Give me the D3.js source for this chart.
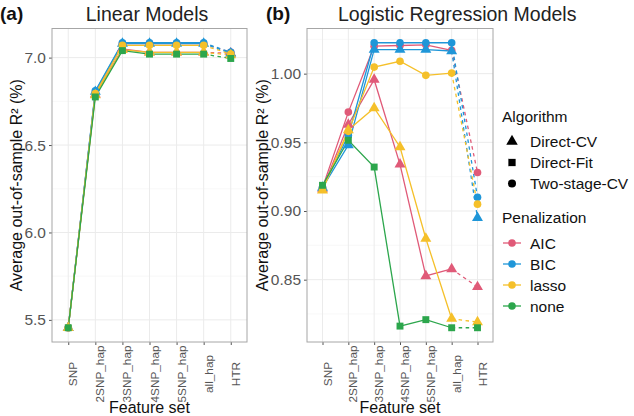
<!DOCTYPE html>
<html>
<head>
<meta charset="utf-8">
<script src="https://cdn.jsdelivr.net/npm/d3@7"></script>
<style>
  body { margin: 0; background: #fff; }
  svg { display: block; font-family: "Liberation Sans", Arial, sans-serif; }
</style>
</head>
<body>
<div id="graphic"></div>
<script>
const features = ['SNP', '2SNP_hap', '3SNP_hap', '4SNP_hap', '5SNP_hap', 'all_hap', 'HTR'];
const algorithms = ['Direct-CV', 'Direct-Fit', 'Two-stage-CV'];
const penalties = ['AIC', 'BIC', 'lasso', 'none'];
const penColors = ['#E05A78', '#1F96D8', '#F5C02A', '#2CA64C'];

// one row per line: [penalization, algorithm]
const seriesKeys = [
  ['AIC', 'Two-stage-CV'],
  ['AIC', 'Direct-CV'],
  ['BIC', 'Two-stage-CV'],
  ['BIC', 'Direct-CV'],
  ['lasso', 'Two-stage-CV'],
  ['lasso', 'Direct-CV'],
  ['none', 'Direct-Fit']
];

const linearValues = [
  [5.455, 6.80, 7.080, 7.080, 7.080, 7.080, 7.030],
  [5.455, 6.79, 7.050, 7.030, 7.030, 7.030, 7.025],
  [5.455, 6.81, 7.085, 7.085, 7.085, 7.085, 7.030],
  [5.455, 6.805, 7.080, 7.080, 7.080, 7.080, 7.025],
  [5.455, 6.795, 7.070, 7.070, 7.070, 7.070, 7.020],
  [5.455, 6.785, 7.045, 7.030, 7.030, 7.030, 7.015],
  [5.455, 6.775, 7.040, 7.020, 7.020, 7.020, 6.995]
];

const logisticValues = [
  [0.917, 0.972, 1.0200, 1.0205, 1.0210, 1.0170, 0.928],
  [0.916, 0.963, 0.9956, 0.9340, 0.8527, 0.8578, 0.8447],
  [0.917, 0.955, 1.0225, 1.0225, 1.0225, 1.0225, 0.910],
  [0.917, 0.948, 1.0175, 1.0175, 1.0175, 1.0165, 0.895],
  [0.916, 0.958, 1.0048, 1.0090, 0.9988, 1.0004, 0.905],
  [0.915, 0.959, 0.9750, 0.9466, 0.8800, 0.8216, 0.8191],
  [0.9187, 0.9515, 0.9320, 0.8162, 0.8209, 0.8150, 0.8150]
];

const linearTicks = [5.5, 6.0, 6.5, 7.0];
const linearMinor = [5.75, 6.25, 6.75];
const logisticTicks = [0.85, 0.90, 0.95, 1.00];
const logisticMinor = [0.825, 0.875, 0.925, 0.975, 1.025];

const width = 634, height = 416;
const plotTop = 28.5, plotBottom = 342;

const color = d3.scaleOrdinal().domain(penalties).range(penColors);
const shape = d3.scaleOrdinal().domain(algorithms)
  .range([d3.symbolTriangle, d3.symbolSquare, d3.symbolCircle]);
const shapeSize = {'Direct-CV': 52, 'Direct-Fit': 48, 'Two-stage-CV': 46};

const svg = d3.select('#graphic').append('svg')
  .attr('width', width)
  .attr('height', height);

function panel(opts) {
  const {left, right, values, ticks, minor, fmt, title, tag, tagX, titleX, titleAnchor, yTitleX} = opts;
  const all = values.flat();
  const lo = d3.min(all), hi = d3.max(all), pad = (hi - lo) * 0.05;

  const x = d3.scalePoint().domain(features).range([left, right]).padding(0.6);
  const y = d3.scaleLinear().domain([lo - pad, hi + pad]).range([plotBottom, plotTop]);

  const g = svg.append('g');

  // grid
  g.append('g').selectAll('line').data(minor).join('line')
    .attr('x1', left).attr('x2', right)
    .attr('y1', d => y(d)).attr('y2', d => y(d))
    .attr('stroke', '#F4F4F4').attr('stroke-width', 0.6);
  g.append('g').selectAll('line').data(ticks).join('line')
    .attr('x1', left).attr('x2', right)
    .attr('y1', d => y(d)).attr('y2', d => y(d))
    .attr('stroke', '#EBEBEB').attr('stroke-width', 1);
  g.append('g').selectAll('line').data(features).join('line')
    .attr('x1', d => x(d)).attr('x2', d => x(d))
    .attr('y1', plotTop).attr('y2', plotBottom)
    .attr('stroke', '#EBEBEB').attr('stroke-width', 1);

  // y axis
  const yAxis = g.append('g')
    .attr('transform', `translate(${left},0)`)
    .call(d3.axisLeft(y).tickValues(ticks).tickFormat(fmt).tickSize(3).tickPadding(3));
  yAxis.select('.domain').remove();
  yAxis.selectAll('line').attr('stroke', '#555');
  yAxis.selectAll('text').attr('fill', '#555').attr('font-size', 15.5)
    .attr('font-family', '"Liberation Sans", Arial, sans-serif');

  // x axis
  const xAxis = g.append('g')
    .attr('transform', `translate(0,${plotBottom})`)
    .call(d3.axisBottom(x).tickSize(3).tickPadding(0));
  xAxis.select('.domain').remove();
  xAxis.selectAll('line').attr('stroke', '#555');
  xAxis.selectAll('text')
    .attr('fill', '#555')
    .attr('font-size', 11.8)
    .attr('font-family', '"Liberation Sans", Arial, sans-serif')
    .attr('text-anchor', 'middle')
    .attr('dy', null)
    .attr('y', 0)
    .attr('transform', 'translate(8.5,32) rotate(-90)');

  // lines
  const solid = d3.line().x((d, i) => x(features[i])).y(d => y(d));
  const lines = g.append('g');
  values.forEach((vals, k) => {
    const pen = seriesKeys[k][0];
    lines.append('path')
      .attr('d', solid(vals.slice(0, 6)))
      .attr('fill', 'none')
      .attr('stroke', color(pen))
      .attr('stroke-width', 1.3);
    lines.append('line')
      .attr('x1', x(features[5])).attr('y1', y(vals[5]))
      .attr('x2', x(features[6])).attr('y2', y(vals[6]))
      .attr('stroke', color(pen))
      .attr('stroke-width', 1.3)
      .attr('stroke-dasharray', '3.5,3.5');
  });

  // points
  const pts = g.append('g');
  values.forEach((vals, k) => {
    const [pen, alg] = seriesKeys[k];
    pts.selectAll(null).data(vals).join('path')
      .attr('transform', (d, i) => `translate(${x(features[i])},${y(d)})`)
      .attr('d', d3.symbol(shape(alg), shapeSize[alg]))
      .attr('fill', color(pen));
  });

  // border
  g.append('rect')
    .attr('x', left).attr('y', plotTop)
    .attr('width', right - left).attr('height', plotBottom - plotTop)
    .attr('fill', 'none').attr('stroke', '#A6A6A6').attr('stroke-width', 1);

  // titles
  svg.append('text').attr('x', titleX).attr('y', 21)
    .attr('text-anchor', titleAnchor).attr('font-size', 19.5).attr('fill', '#222')
    .text(title);
  svg.append('text').attr('x', tagX).attr('y', 20)
    .attr('font-size', 19).attr('font-weight', 'bold').attr('fill', '#111')
    .text(tag);
  svg.append('text')
    .attr('transform', `translate(${yTitleX},${(plotTop + plotBottom) / 2}) rotate(-90)`)
    .attr('text-anchor', 'middle').attr('font-size', 16).attr('fill', '#111')
    .text('Average out-of-sample R² (%)');
  svg.append('text').attr('x', (left + right) / 2).attr('y', 413)
    .attr('text-anchor', 'middle').attr('font-size', 16).attr('fill', '#111')
    .text('Feature set');
}

panel({
  left: 52, right: 247, values: linearValues,
  ticks: linearTicks, minor: linearMinor, fmt: d3.format('.1f'),
  title: 'Linear Models', tag: '(a)', tagX: 0, titleX: 147, titleAnchor: 'middle', yTitleX: 22
});

panel({
  left: 307, right: 493, values: logisticValues,
  ticks: logisticTicks, minor: logisticMinor, fmt: d3.format('.2f'),
  title: 'Logistic Regression Models', tag: '(b)', tagX: 266, titleX: 338, titleAnchor: 'start', yTitleX: 268
});

// legends
const leg = svg.append('g').attr('font-size', 15.5).attr('fill', '#111');
leg.append('text').attr('x', 502).attr('y', 122).text('Algorithm');
algorithms.forEach((a, i) => {
  const cy = 141.5 + i * 21;
  leg.append('path')
    .attr('transform', `translate(512,${cy})`)
    .attr('d', d3.symbol(shape(a), shapeSize[a] * 1.1))
    .attr('fill', '#000');
  leg.append('text').attr('x', 530).attr('y', cy + 5.5).text(a);
});

leg.append('text').attr('x', 502).attr('y', 223).text('Penalization');
penalties.forEach((p, i) => {
  const cy = 243 + i * 21;
  leg.append('line')
    .attr('x1', 503).attr('x2', 521).attr('y1', cy).attr('y2', cy)
    .attr('stroke', color(p)).attr('stroke-width', 1.3);
  leg.append('circle').attr('cx', 512).attr('cy', cy).attr('r', 3.8)
    .attr('fill', color(p));
  leg.append('text').attr('x', 530).attr('y', cy + 5.5).text(p);
});
</script>
</body>
</html>
